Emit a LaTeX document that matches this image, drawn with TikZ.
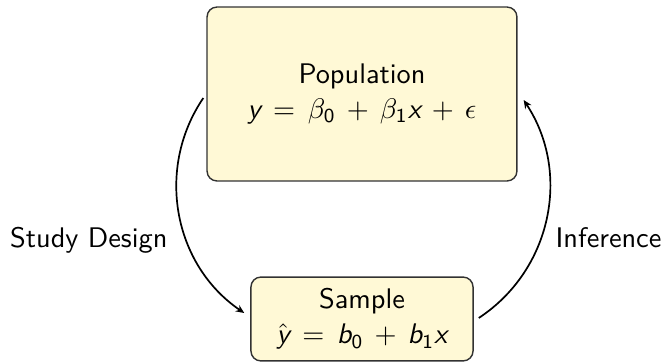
\documentclass[tikz,border=0pt]{standalone}
\usetikzlibrary{arrows.meta}
\newcommand\sfi[1]{\mbox{\sffamily\itshape #1}}
\definecolor{boxfill}{RGB}{255,249,214}
\definecolor{boxline}{RGB}{50,50,50}
\begin{document}
\begin{tikzpicture}[x=0.353pt,y=-0.353pt,
  font=\sffamily,
  box/.style={draw=boxline, line width=0.5pt, fill=boxfill, rounded corners=3.5pt, align=center, inner sep=0pt},
  arr/.style={-{Stealth[length=3pt,width=2.6pt]}, line width=0.6pt},
  lbl/.style={inner sep=0pt}]
\useasboundingbox (0,0) rectangle (665,363);
\node[box, minimum width=109.4pt, minimum height=61.4pt] (top) at (362,94)
  {Population\\[0.5pt] $\sfi{y} \,=\, \beta_{\mathsf{0}} \,+\, \beta_{\mathsf{1}}\sfi{x} \,+\, \epsilon$};
\node[box, minimum width=78.4pt, minimum height=29.6pt] (bot) at (362,319)
  {Sample\\[0.5pt] $\hat{\sfi{y}} \,=\, \sfi{b}_{\mathsf{0}} \,+\, \sfi{b}_{\mathsf{1}}\sfi{x}$};
\node[lbl, anchor=base east] (sd) at (168,247) {Study Design};
\node[lbl, anchor=base west] (inf) at (555,247) {Inference};
\draw[arr] ([shift={(-3,4)}]top.west) to[bend right=45] ([shift={(-6,-6)}]bot.west);
\draw[arr] ([shift={(5,-1)}]bot.east) to[bend right=45] ([shift={(6,6)}]top.east);
\end{tikzpicture}
\end{document}
